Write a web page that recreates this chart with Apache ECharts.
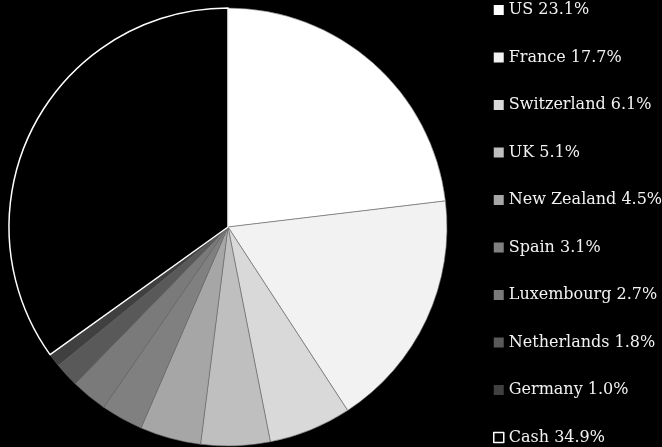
<!DOCTYPE html>
<html>
<head>
<meta charset="utf-8">
<script src="https://cdn.jsdelivr.net/npm/echarts@6/dist/echarts.min.js"></script>
<style>html,body{margin:0;padding:0;background:#000;}#c{width:662px;height:447px;}</style>
</head>
<body>
<div id="c"></div>
<script>
const categories = ["US", "France", "Switzerland", "UK", "New Zealand", "Spain", "Luxembourg", "Netherlands", "Germany", "Cash"];
const values = [23.1, 17.7, 6.1, 5.1, 4.5, 3.1, 2.7, 1.8, 1.0, 34.9];
const colors = ["#ffffff", "#f2f2f2", "#d9d9d9", "#bfbfbf", "#a6a6a6", "#808080", "#7a7a7a", "#595959", "#404040", "#000000"];

const chart = echarts.init(document.getElementById('c'), null, {renderer: 'canvas'});
const data = categories.map((c, i) => {
  const isCash = c === "Cash";
  return {
    name: c + " " + values[i].toFixed(1) + "%",
    value: values[i],
    itemStyle: {
      color: colors[i],
      borderColor: isCash ? "#ffffff" : "#6e6e6e",
      borderWidth: isCash ? 1.5 : 0.6
    }
  };
});
const legendData = data.map((d, i) => ({
  name: d.name,
  itemStyle: categories[i] === "Cash"
    ? {color: "#000", borderColor: "#fff", borderWidth: 1.5}
    : {color: colors[i], borderWidth: 0}
}));
chart.setOption({
  backgroundColor: "#000000",
  animation: false,
  legend: {
    orient: "vertical",
    left: 493,
    top: 2,
    padding: 0,
    height: 446,
    icon: "rect",
    itemWidth: 10,
    itemHeight: 10,
    itemGap: 31.5,
    textStyle: {color: "#f2f2f2", fontFamily: "DejaVu Serif", fontSize: 16, lineHeight: 16},
    data: legendData,
    selectedMode: false
  },
  series: [{
    type: "pie",
    center: [228, 227],
    radius: 219,
    startAngle: 90,
    clockwise: true,
    label: {show: false},
    labelLine: {show: false},
    emphasis: {disabled: true},
    data: data
  }]
});
</script>
</body>
</html>
